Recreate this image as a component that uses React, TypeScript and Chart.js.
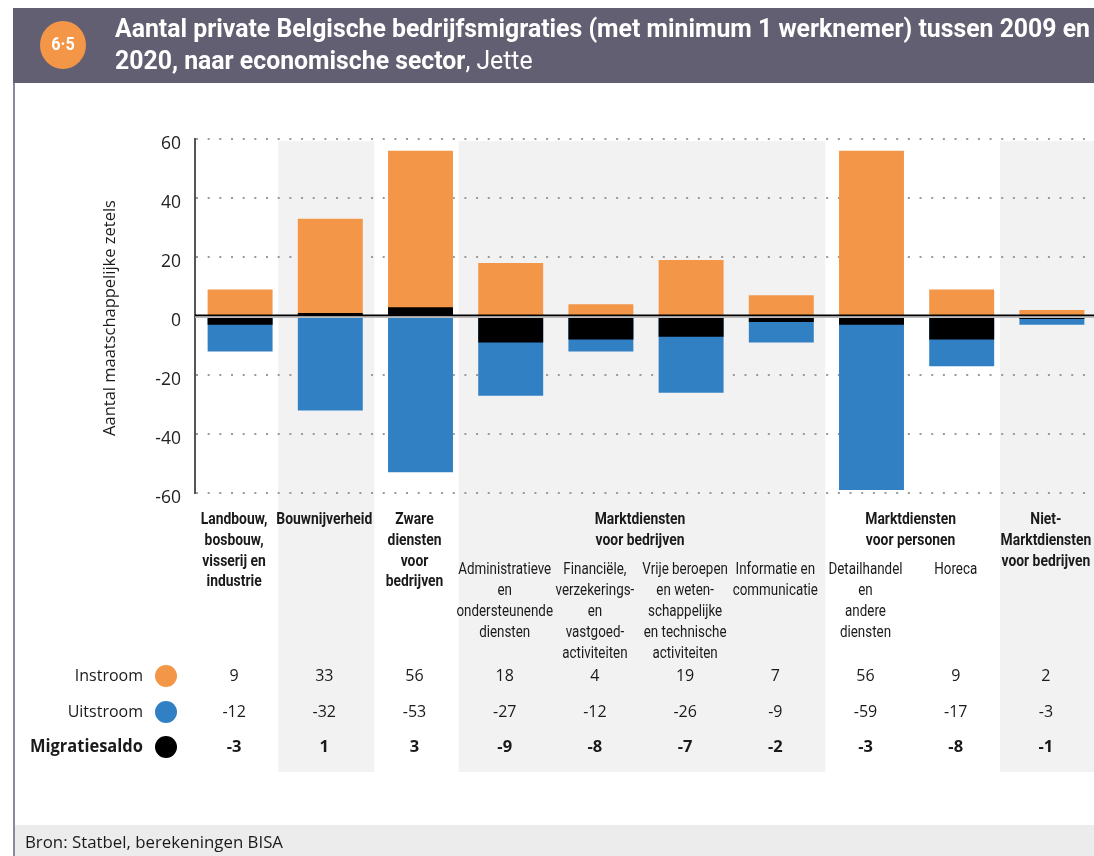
import { useEffect, useRef } from 'react';
import { Chart, registerables } from 'chart.js';

Chart.register(...registerables);

// ---------- DATA ----------
const categoryLabels: string[][] = [
  ['Landbouw,', 'bosbouw,', 'visserij en', 'industrie'],
  ['Bouwnijverheid'],
  ['Zware', 'diensten', 'voor', 'bedrijven'],
  ['Administratieve', 'en', 'ondersteunende', 'diensten'],
  ['Financiële,', 'verzekerings-', 'en', 'vastgoed-', 'activiteiten'],
  ['Vrije beroepen', 'en weten-', 'schappelijke', 'en technische', 'activiteiten'],
  ['Informatie en', 'communicatie'],
  ['Detailhandel', 'en', 'andere', 'diensten'],
  ['Horeca'],
  ['Niet-', 'Marktdiensten', 'voor bedrijven'],
];
const boldCategory = [true, true, true, false, false, false, false, false, false, true];

const groupLabels: { lines: string[]; from: number; to: number }[] = [
  { lines: ['Marktdiensten', 'voor bedrijven'], from: 3, to: 6 },
  { lines: ['Marktdiensten', 'voor personen'], from: 7, to: 8 },
];
const shadedGroups: [number, number][] = [[1, 1], [3, 6], [9, 9]];

const instroom = [9, 33, 56, 18, 4, 19, 7, 56, 9, 2];
const uitstroom = [-12, -32, -53, -27, -12, -26, -9, -59, -17, -3];
const saldo = [-3, 1, 3, -9, -8, -7, -2, -3, -8, -1];

const seriesNames = ['Instroom', 'Uitstroom', 'Migratiesaldo'];
const yMin = -60;
const yMax = 60;
const yStep = 20;

const badgeText = '6·5';
const titleLine1 = 'Aantal private Belgische bedrijfsmigraties (met minimum 1 werknemer) tussen 2009 en';
const titleLine2Bold = '2020, naar economische sector';
const titleLine2Regular = ', Jette';
const yAxisTitle = 'Aantal maatschappelijke zetels';
const sourceText = 'Bron: Statbel, berekeningen BISA';

// ---------- STYLE ----------
const ORANGE = '#F39647';
const BLUE = '#3280C4';
const BLACK = '#000000';
const HEADER = '#635F72';
const FRAME = '#8D899C';
const SHADE = '#F2F2F2';
const TEXT = '#1A1A1A';

function drawText(
  ctx: CanvasRenderingContext2D,
  s: string,
  x: number,
  y: number,
  font: string,
  color: string,
  align: CanvasTextAlign,
  sx = 1,
) {
  ctx.save();
  ctx.font = font;
  ctx.fillStyle = color;
  ctx.textAlign = align;
  ctx.textBaseline = 'middle';
  ctx.translate(x, y);
  ctx.scale(sx, 1);
  ctx.fillText(s, 0, 0);
  ctx.restore();
}

function measure(ctx: CanvasRenderingContext2D, s: string, font: string) {
  ctx.save();
  ctx.font = font;
  const w = ctx.measureText(s).width;
  ctx.restore();
  return w;
}

const BOLD_COND = 'bold 17px Roboto';
const REG_COND = '17px Roboto';
const TABLE_REG = '16px "Open Sans"';
const TABLE_BOLD = 'bold 16.5px "Open Sans"';

const decorPlugin = {
  id: 'decor',
  beforeDraw(chart: any) {
    const ctx: CanvasRenderingContext2D = chart.ctx;
    const xs = chart.scales.x;
    const ys = chart.scales.y;
    ctx.save();
    ctx.fillStyle = '#fff';
    ctx.fillRect(0, 0, chart.width, chart.height);

    // shaded columns
    ctx.fillStyle = SHADE;
    const shadeTop = ys.top + 2;
    const shadeBottom = 772;
    shadedGroups.forEach(([a, b]) => {
      const l = xs.getPixelForValue(a) - 52;
      const r = xs.getPixelForValue(b) + 44;
      ctx.fillRect(l, shadeTop, r - l, shadeBottom - shadeTop);
    });

    // header bar
    ctx.fillStyle = HEADER;
    ctx.fillRect(13, 8, chart.width - 13, 75);
    // frame line
    ctx.fillStyle = FRAME;
    ctx.fillRect(13, 83, 2, chart.height - 83);
    // footer band
    ctx.fillStyle = '#ECECEC';
    ctx.fillRect(15, 825, chart.width - 15, chart.height - 825);

    // badge
    ctx.fillStyle = ORANGE;
    ctx.beginPath();
    ctx.ellipse(63, 45, 23, 24, 0, 0, Math.PI * 2);
    ctx.fill();
    drawText(ctx, badgeText, 63, 45, 'bold 19px Roboto', '#fff', 'center', 0.85);

    // title
    const tFont = 'bold 26px Roboto';
    const tRegFont = '26px Roboto';
    const sxT = 975 / measure(ctx, titleLine1, tFont);
    drawText(ctx, titleLine1, 115, 30, tFont, '#fff', 'left', sxT);
    drawText(ctx, titleLine2Bold, 115, 62, tFont, '#fff', 'left', sxT);
    const w2 = measure(ctx, titleLine2Bold, tFont) * sxT;
    drawText(ctx, titleLine2Regular, 115 + w2, 62, tRegFont, '#fff', 'left', sxT);

    // source
    const sFont = '16px "Open Sans"';
    const sxS = 258 / measure(ctx, sourceText, sFont);
    drawText(ctx, sourceText, 25, 843, sFont, TEXT, 'left', sxS);

    // y axis title
    ctx.save();
    ctx.translate(110, 318);
    ctx.rotate(-Math.PI / 2);
    drawText(ctx, yAxisTitle, 0, 0, '16px "Open Sans"', TEXT, 'center', 1.03);
    ctx.restore();

    ctx.restore();
  },
  afterDatasetsDraw(chart: any) {
    const ctx: CanvasRenderingContext2D = chart.ctx;
    const xs = chart.scales.x;
    const ys = chart.scales.y;
    const y0 = ys.getPixelForValue(0);
    ctx.save();
    ctx.fillStyle = '#000';
    ctx.fillRect(xs.left, y0 - 1.5, chart.width - xs.left, 2);
    ctx.fillStyle = '#BDBDBD';
    ctx.fillRect(xs.left, y0 + 0.5, chart.width - xs.left, 1.5);
    ctx.restore();
  },
  afterDraw(chart: any) {
    const ctx: CanvasRenderingContext2D = chart.ctx;
    const xs = chart.scales.x;
    const colX = (i: number) => xs.getPixelForValue(i) - 6;
    const sxB = 96 / measure(ctx, 'Bouwnijverheid', BOLD_COND);
    const sxR = 93 / measure(ctx, 'Administratieve', REG_COND);

    const boldY0 = 520;
    const boldStep = 20.7;
    const subY0 = 570;
    const subStep = 21;

    categoryLabels.forEach((lines, i) => {
      const bold = boldCategory[i];
      lines.forEach((ln, k) => {
        if (bold) drawText(ctx, ln, colX(i), boldY0 + k * boldStep, BOLD_COND, TEXT, 'center', sxB);
        else drawText(ctx, ln, colX(i), subY0 + k * subStep, REG_COND, TEXT, 'center', sxR);
      });
    });
    groupLabels.forEach((g) => {
      const cx = (colX(g.from) + colX(g.to)) / 2;
      g.lines.forEach((ln, k) => drawText(ctx, ln, cx, boldY0 + k * boldStep, BOLD_COND, TEXT, 'center', sxB));
    });

    // table
    const rowY = [676, 712, 747];
    const colors = [ORANGE, BLUE, BLACK];
    const rows = [instroom, uitstroom, saldo];
    rows.forEach((vals, r) => {
      const font = r === 2 ? TABLE_BOLD : TABLE_REG;
      drawText(ctx, seriesNames[r], 143, rowY[r], r === 2 ? 'bold 17px "Open Sans"' : TABLE_REG, TEXT, 'right', r === 2 ? 0.97 : 1);
      ctx.save();
      ctx.fillStyle = colors[r];
      ctx.beginPath();
      ctx.arc(166, rowY[r], 11, 0, Math.PI * 2);
      ctx.fill();
      ctx.restore();
      vals.forEach((v, i) => drawText(ctx, String(v), colX(i), rowY[r], font, TEXT, 'center', 1));
    });
  },
};

export default function App() {
  const canvasRef = useRef<HTMLCanvasElement>(null);

  useEffect(() => {
    const canvas = canvasRef.current;
    if (!canvas) return;
    const chart = new Chart(canvas, {
      type: 'bar',
      data: {
        labels: categoryLabels,
        datasets: [
          { label: seriesNames[2], data: saldo, backgroundColor: BLACK, order: 0 },
          { label: seriesNames[0], data: instroom, backgroundColor: ORANGE, order: 1 },
          { label: seriesNames[1], data: uitstroom, backgroundColor: BLUE, order: 2 },
        ],
      },
      options: {
        responsive: false,
        animation: false,
        devicePixelRatio: 1,
        layout: { padding: { top: 139, bottom: 363, left: 0, right: 0 } },
        datasets: {
          bar: { grouped: false, barPercentage: 0.72, categoryPercentage: 1, borderWidth: 0 },
        },
        plugins: { legend: { display: false }, tooltip: { enabled: false } },
        scales: {
          x: { display: false },
          y: {
            min: yMin,
            max: yMax,
            ticks: {
              stepSize: yStep,
              padding: 14,
              labelOffset: 5,
              color: '#222',
              font: { family: '"Open Sans"', size: 17.5 },
            },
            grid: {
              drawTicks: false,
              lineWidth: 2,
              color: (c: any) => (c.tick && c.tick.value === 0 ? 'rgba(0,0,0,0)' : '#9A9A9A'),
            },
            border: { display: true, color: '#555', width: 2, dash: [2, 9.67] },
            afterFit: (s: any) => {
              s.width = 195;
            },
          },
        },
      } as any,
      plugins: [decorPlugin],
    });
    return () => chart.destroy();
  }, []);

  return (
    <div
      style={{
        position: 'absolute',
        left: 0,
        top: 0,
        width: 1094,
        height: 856,
        overflow: 'hidden',
        background: '#fff',
      }}
    >
      <canvas ref={canvasRef} width={1097} height={856} style={{ display: 'block' }} />
    </div>
  );
}
